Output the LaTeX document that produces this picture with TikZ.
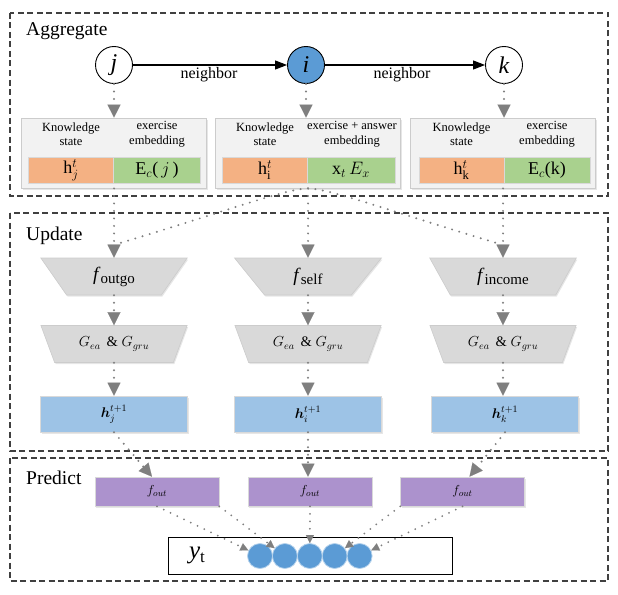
\RequirePackage{fix-cm}
\documentclass[tikz,border=0pt]{standalone}
\usepackage{amsmath}
\usepackage{fontspec}
\setmainfont{Liberation Serif}
\usetikzlibrary{arrows.meta,shapes.geometric,shadows}
\definecolor{blueC}{HTML}{5B9BD5}
\definecolor{orangeC}{HTML}{F4B183}
\definecolor{greenC}{HTML}{A9D18E}
\definecolor{trapC}{HTML}{D9D9D9}
\definecolor{hC}{HTML}{9DC3E6}
\definecolor{purpC}{HTML}{AC92CD}
\definecolor{aggC}{HTML}{F2F2F2}
\definecolor{lineC}{HTML}{7F7F7F}
\newcommand{\myfs}[1]{\fontsize{#1}{#1}\selectfont}
\begin{document}
\begin{tikzpicture}[x=1pt,y=-1pt,
  sect/.style={draw=black!75, line width=1.1pt, dash pattern=on 6pt off 3.5pt},
  ttl/.style={anchor=west, inner sep=0pt, font=\myfs{19.5}},
  circ/.style={circle, draw=black, line width=0.9pt, minimum size=37pt, inner sep=0pt, fill=white, font=\myfs{24}},
  narrow/.style={line width=1.1pt, -{Triangle[width=9pt,length=12pt]}},
  nlbl/.style={inner sep=0pt, font=\myfs{16}},
  shad/.style={drop shadow={shadow xshift=1pt, shadow yshift=-1.5pt, opacity=0.2}},
  aggbox/.style={shad, rectangle, fill=aggC, draw=black!20, line width=0.8pt, minimum width=185pt, minimum height=70pt, inner sep=0pt},
  obox/.style={rectangle, fill=orangeC, draw=black!15, line width=0.6pt, minimum height=26pt, inner sep=0pt, font=\myfs{18}},
  gbox/.style={rectangle, fill=greenC, draw=black!15, line width=0.6pt, minimum height=26pt, inner sep=0pt, font=\myfs{18}},
  lbl/.style={align=center, inner sep=0pt, font=\myfs{12.5}},
  dots/.style={draw=lineC, line width=2.2pt, line cap=round, dash pattern=on 0pt off 7.5pt},
  dotarrow/.style={dots, -{Triangle[width=13pt,length=13pt,line width=0.1pt]}},
  smallarrow/.style={dots, line width=2pt, -{Triangle[width=8pt,length=8pt,line width=0.1pt]}},
  trap/.style={shad, trapezium, shape border rotate=180, trapezium stretches=true, minimum width=147pt, minimum height=37pt, trapezium angle=60, fill=trapC, draw=black!20, line width=0.6pt, inner sep=0pt},
  hbox/.style={shad, rectangle, fill=hC, draw=black!15, line width=0.6pt, minimum width=147pt, minimum height=36pt, inner sep=0pt, font=\myfs{14}},
  fobox/.style={shad, rectangle, fill=purpC, draw=black!15, line width=0.6pt, minimum width=124pt, minimum height=29pt, inner sep=0pt, font=\myfs{13}},
  ybox/.style={rectangle, draw=black, line width=1pt, minimum width=284pt, minimum height=37pt, inner sep=0pt},
  dotc/.style={circle, fill=blueC, draw=blueC!45, line width=0.8pt, minimum size=25pt, inner sep=0pt}
]
\useasboundingbox (0,0) rectangle (618,594);
% sections
\draw[sect] (10,13) rectangle (608,196);
\draw[sect] (10,213) rectangle (608,451);
\draw[sect] (10,458) rectangle (608,581);
\node[ttl] (tA) at (26,31) {Aggregate};
\node[ttl] (tU) at (26,236) {Update};
\node[ttl] (tP) at (26,478) {Predict};
% graph nodes
\node[circ] (j) at (114,65) {\textit{j}};
\node[circ, fill=blueC] (i) at (306,65) {\textit{i}};
\node[circ] (k) at (504,65) {\textit{k}};
\draw[narrow] (j) -- (i);
\draw[narrow] (i) -- (k);
\node[nlbl] (n1) at (209,75) {neighbor};
\node[nlbl] (n2) at (402,75) {neighbor};
% aggregate boxes
\node[aggbox] (b1) at (114,153) {};
\node[aggbox] (b2) at (308,153) {};
\node[aggbox] (b3) at (503,153) {};
\node[obox, minimum width=85pt] (o1) at (71,170) {h$^{t}_{j}$};
\node[gbox, minimum width=87pt] (g1) at (157,170) {E$_{c}$(\,$j$\,)};
\node[obox, minimum width=85pt] (o2) at (265,170) {h$^{t}_{\mathrm{i}}$};
\node[gbox, minimum width=88pt] (g2) at (351,170) {x$_{t}$\,$E_{x}$};
\node[obox, minimum width=85pt] (o3) at (461.5,170) {h$^{t}_{\mathrm{k}}$};
\node[gbox, minimum width=86pt] (g3) at (547,170) {E$_{c}$(k)};
\node[lbl] (l1) at (71,134) {Knowledge\\[2pt]state};
\node[lbl] (m1) at (157,134) {exercise\\[2pt]embedding};
\node[lbl] (l2) at (265,134) {Knowledge\\[2pt]state};
\node[lbl] (m2) at (352,134) {exercise + answer\\[2pt]embedding};
\node[lbl] (l3) at (461.5,134) {Knowledge\\[2pt]state};
\node[lbl] (m3) at (547,134) {exercise\\[2pt]embedding};
\draw[dotarrow] (j) -- (j |- b1.north);
\draw[dotarrow] (i) -- (i |- b2.north);
\draw[dotarrow] (k) -- (k |- b3.north);
% update
\node[trap] (f1) at (114,276.5) {\myfs{19}\textit{f}\myfs{15}\raisebox{-3pt}{outgo}};
\node[trap] (f2) at (308,276.5) {\myfs{19}\textit{f}\myfs{15}\raisebox{-3pt}{self}};
\node[trap] (f3) at (503,276.5) {\myfs{19}\textit{f}\myfs{15}\raisebox{-3pt}{income}};
\node[trap] (G1) at (114,344) {\myfs{14.5}$G_{ea}\ \,\&\ G_{gru}$};
\node[trap] (G2) at (308,344) {\myfs{14.5}$G_{ea}\ \,\&\ G_{gru}$};
\node[trap] (G3) at (503,344) {\myfs{14.5}$G_{ea}\ \,\&\ G_{gru}$};
\node[hbox] (h1) at (114,414) {$\boldsymbol{h}_{j}^{t+1}$};
\node[hbox] (h2) at (308,414) {$\boldsymbol{h}_{i}^{t+1}$};
\node[hbox] (h3) at (505,414) {$\boldsymbol{h}_{k}^{t+1}$};
\coordinate (ca) at (117,244);
\coordinate (cb) at (500,244);
\draw[dotarrow] (b1) -- (f1);
\draw[dotarrow] (b2) -- (f2);
\draw[dotarrow] (b3) -- (f3);
\draw[dots] (b2.south) .. controls (285,189) and (230,210) .. (ca);
\draw[dots] (b2.south) .. controls (331,189) and (386,210) .. (cb);
\draw[dotarrow] (f1) -- (G1);
\draw[dotarrow] (f2) -- (G2);
\draw[dotarrow] (f3) -- (G3);
\draw[dotarrow] (G1) -- (h1);
\draw[dotarrow] (G2) -- (h2);
\draw[dotarrow] (G3) -- (G3 |- h3.north);
% predict
\node[fobox] (fo1) at (157,491.5) {$f_{out}$};
\node[fobox] (fo2) at (310,491.5) {$f_{out}$};
\node[fobox] (fo3) at (462.5,491.5) {$f_{out}$};
\draw[dotarrow] (h1.south) -- ([xshift=-5pt]fo1.north);
\draw[dotarrow] (h2.south) -- (h2.south |- fo2.north);
\draw[dotarrow] (h3.south) -- ([xshift=7pt]fo3.north);
\node[ybox] (Y) at (310,555.5) {};
\node[inner sep=0pt] (yt) at (197,555) {\myfs{25}\textit{y}\myfs{17}\raisebox{-4pt}{t}};
\node[dotc] (c1) at (260,556) {};
\node[dotc] (c2) at (284.9,556) {};
\node[dotc] (c3) at (309.8,556) {};
\node[dotc] (c4) at (334.7,556) {};
\node[dotc] (c5) at (359.6,556) {};
\draw[smallarrow] (fo1.south) -- (c1);
\draw[smallarrow] (fo1.south east) -- (c2);
\draw[smallarrow] (fo2.south) -- (c3);
\draw[smallarrow] (fo3.south west) -- (c4);
\draw[smallarrow] (fo3.south) -- (c5);
\end{tikzpicture}
\end{document}
